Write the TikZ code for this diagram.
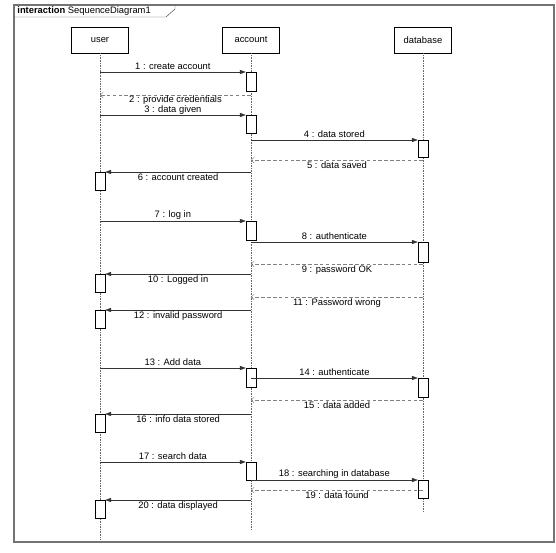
\documentclass[tikz,border=0pt]{standalone}
\usepackage{fontspec}
\setmainfont{Liberation Sans}
\usepackage{tikz}
\usetikzlibrary{positioning, arrows.meta}

\begin{document}
\begin{tikzpicture}[
    x=0.03cm, y=-0.03cm,
    lnode/.style={draw, fill=white, minimum width=1.72cm, minimum height=0.78cm, font=\footnotesize},
    abox/.style={draw, fill=white, minimum width=0.3cm, inner sep=0pt, anchor=north},
    lifeline/.style={densely dotted, black!60},
    call/.style={black!80, -{Triangle[length=5pt, width=3.5pt]}},
    ret/.style={densely dashed, black!50, -{Straight Barb[length=2.5pt, width=5pt]}},
    mlabel/.style={font=\footnotesize, text=black, inner sep=1.5pt}
]
\useasboundingbox (0,0) rectangle (556,552);

% frame and title tab
\draw[black!55, line width=0.9pt] (14,5) rectangle (554,542);
\node[anchor=west, font=\footnotesize, inner sep=1pt] (title) at (16,11) {\textbf{interaction} SequenceDiagram1};
\draw[black!70] (14,17) -- (166,17) -- (175,9) -- (175,5);

% lifelines
\node[lnode] (user) at (100,40) {user};
\node[lnode] (account) at (251,40) {account};
\node[lnode] (db) at (423,40) {database};
\coordinate (userend) at (100,540);
\coordinate (accend) at (251,530);
\coordinate (dbend) at (423,512);
\draw[lifeline] (user) -- (userend);
\draw[lifeline] (account) -- (accend);
\draw[lifeline] (db) -- (dbend);

% activations
\node[abox, minimum height=0.57cm] (acc1) at (251,72) {};
\node[abox, minimum height=0.54cm] (acc2) at (251,115) {};
\node[abox, minimum height=0.57cm] (acc3) at (251,221) {};
\node[abox, minimum height=0.57cm] (acc4) at (251,368) {};
\node[abox, minimum height=0.54cm] (acc5) at (251,462) {};
\node[abox, minimum height=0.51cm] (db1) at (423,140) {};
\node[abox, minimum height=0.6cm] (db2) at (423,242) {};
\node[abox, minimum height=0.57cm] (db3) at (423,378) {};
\node[abox, minimum height=0.54cm] (db4) at (423,480) {};
\node[abox, minimum height=0.54cm] (u1) at (100,172) {};
\node[abox, minimum height=0.54cm] (u2) at (100,274) {};
\node[abox, minimum height=0.54cm] (u3) at (100,310) {};
\node[abox, minimum height=0.54cm] (u4) at (100,414) {};
\node[abox, minimum height=0.54cm] (u5) at (100,500) {};

% return points
\coordinate (r2) at (251,95);
\coordinate (r5) at (423,160);
\coordinate (r9) at (423,264);
\coordinate (r11) at (423,297);
\coordinate (r15) at (423,400);
\coordinate (r19) at (423,490);

% messages
\draw[call] (acc1.north west -| user) -- node[mlabel, above] {1 : create account} (acc1.north west);
\draw[ret] (r2) -- node[mlabel, below, inner sep=0pt] {2 : provide credentials} (r2 -| user);
\draw[call] (acc2.north west -| user) -- node[mlabel, above, inner sep=0pt] {3 : data given} (acc2.north west);
\draw[call] (db1.north west -| account) -- node[mlabel, above] {4 : data stored} (db1.north west);
\draw[ret] (r5) -- node[mlabel, below] {5 : data saved} (r5 -| account);
\draw[call] (u1.north east -| account) -- node[mlabel, below] {6 : account created} (u1.north east);
\draw[call] (acc3.north west -| user) -- node[mlabel, above] {7 : log in} (acc3.north west);
\draw[call] (db2.north west -| account) -- node[mlabel, above] {8 : authenticate} (db2.north west);
\draw[ret] (r9) -- node[mlabel, below] {9 : password OK} (r9 -| account);
\draw[call] (u2.north east -| account) -- node[mlabel, below] {10 : Logged in} (u2.north east);
\draw[ret] (r11) -- node[mlabel, below] {11 : Password wrong} (r11 -| account);
\draw[call] (u3.north east -| account) -- node[mlabel, below] {12 : invalid password} (u3.north east);
\draw[call] (acc4.north west -| user) -- node[mlabel, above] {13 : Add data} (acc4.north west);
\draw[call] (db3.north west -| account) -- node[mlabel, above] {14 : authenticate} (db3.north west);
\draw[ret] (r15) -- node[mlabel, below] {15 : data added} (r15 -| account);
\draw[call] (u4.north east -| account) -- node[mlabel, below] {16 : info data stored} (u4.north east);
\draw[call] (acc5.north west -| user) -- node[mlabel, above] {17 : search data} (acc5.north west);
\draw[call] (db4.north west -| account) -- node[mlabel, above] {18 : searching in database} (db4.north west);
\draw[ret] (r19) -- node[mlabel, below] {19 : data found} (r19 -| account);
\draw[call] (u5.north east -| account) -- node[mlabel, below] {20 : data displayed} (u5.north east);
\end{tikzpicture}
\end{document}
